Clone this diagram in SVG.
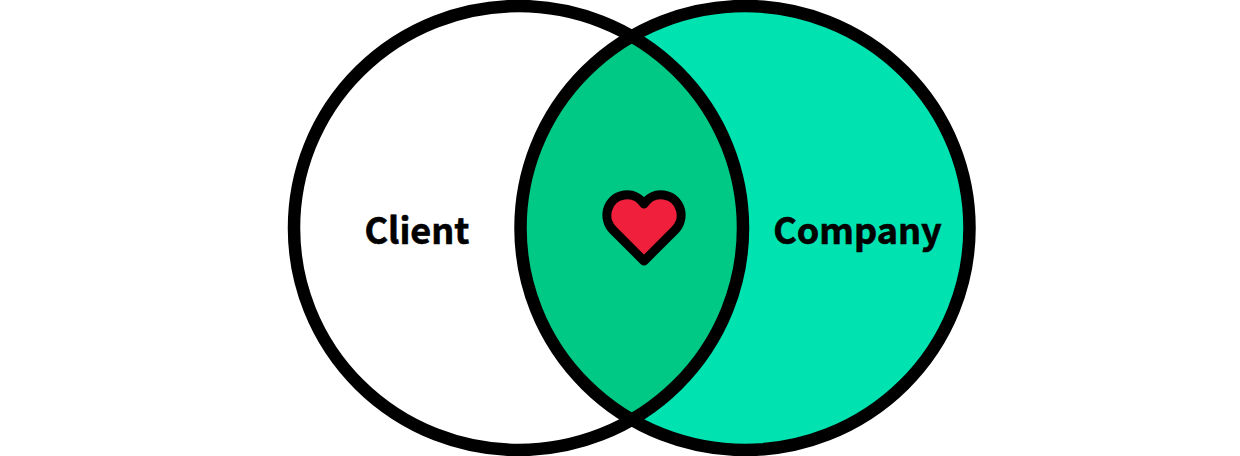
<svg xmlns="http://www.w3.org/2000/svg" width="1240" height="456" viewBox="0 0 1240 456">
<style>
.ring{fill:none;stroke:#000;stroke-width:12.5}
.label{font-family:"Noto Sans CJK SC","Noto Sans",sans-serif;font-weight:700;font-size:36px;fill:#000;stroke:#000;stroke-width:0.6}
</style>
<defs><clipPath id="lens"><ellipse cx="518.5" cy="228" rx="224.5" ry="222"/></clipPath></defs>
<rect width="1240" height="456" fill="#fff"/>
<g id="client"><ellipse cx="518.5" cy="228" rx="224.5" ry="222" fill="#fff"/></g>
<g id="company"><ellipse cx="745" cy="228" rx="224.5" ry="222" fill="#00e3b1"/></g>
<g id="overlap"><ellipse cx="745" cy="228" rx="224.5" ry="222" fill="#00c985" clip-path="url(#lens)"/></g>
<g id="rings"><ellipse class="ring" cx="518.500" cy="228" rx="224.5" ry="222"/><ellipse class="ring" cx="745" cy="228" rx="224.5" ry="222"/></g>
<text class="label" x="417" y="243.500" text-anchor="middle">Client</text>
<text class="label" x="857.500" y="243.500" text-anchor="middle">Company</text>
<g id="heart"><path d="M644 261 L613 230 C602 219 606 198 624 195 C633 193.500 640 198 644 204 C648 198 655 193.500 664 195 C682 198 686 219 675 230 Z" fill="#f0203c" stroke="#000" stroke-width="9" stroke-linejoin="round"/></g>
</svg>
